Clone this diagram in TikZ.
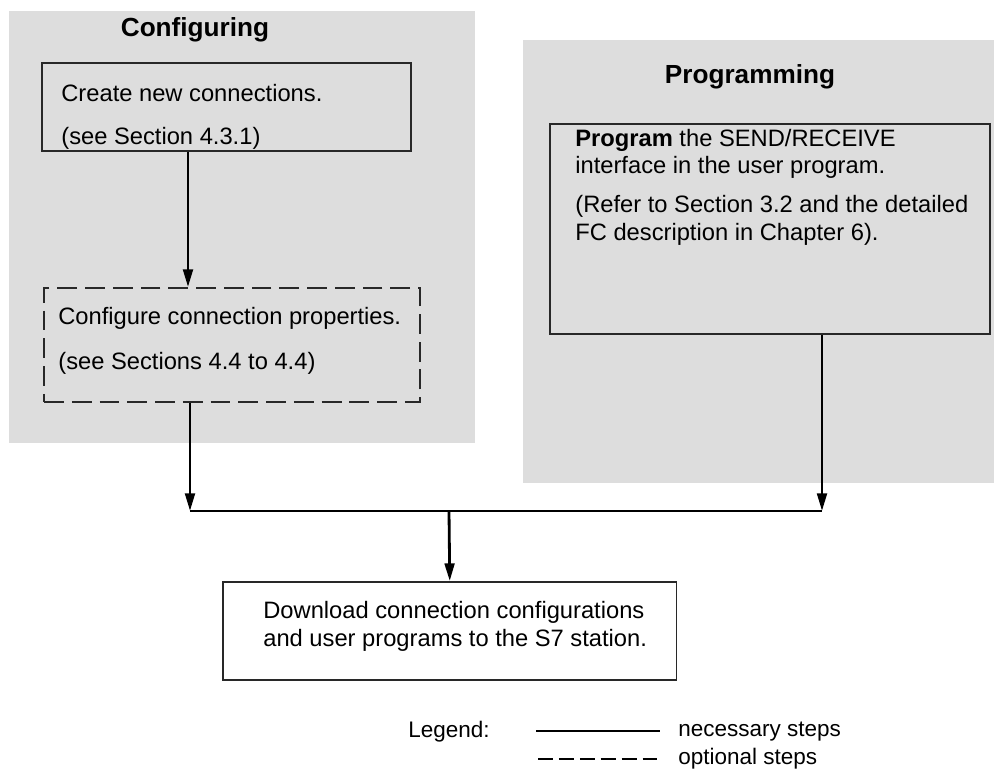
\documentclass[tikz,border=0pt]{standalone}
\usepackage{fontspec}
\setmainfont{Liberation Sans}
\usetikzlibrary{arrows.meta}
\definecolor{panelgray}{RGB}{221,221,221}
\definecolor{boxline}{RGB}{40,40,40}

\begin{document}
\begin{tikzpicture}[x=0.02cm, y=-0.02cm,
    panel/.style={fill=panelgray, draw=none, anchor=north west, inner sep=0pt},
    stepbox/.style={draw=boxline, line width=1.1pt, anchor=north west, inner sep=0pt},
    optbox/.style={stepbox, line width=1.2pt, dash pattern=on 11.3pt off 4.5pt},
    arr/.style={line width=1.6pt, -{Triangle[length=10pt,width=5.5pt]}},
    txt/.style={anchor=base west, inner sep=0pt, font=\fontsize{13.5}{16}\selectfont},
    legtxt/.style={anchor=base west, inner sep=0pt, font=\fontsize{12.8}{15}\selectfont},
    title/.style={anchor=base, inner sep=0pt, font=\fontsize{14.9}{18}\selectfont\bfseries}]
    \useasboundingbox (0,0) rectangle (994,772);
    % grey backgrounds
    \node[panel, minimum width=9.32cm, minimum height=8.64cm] (cfgpanel) at (9,11) {};
    \node[panel, minimum width=9.42cm, minimum height=8.86cm] (prgpanel) at (523,40) {};
    \node[title] (cfgtitle) at (195,36) {Configuring};
    \node[title] (prgtitle) at (750,83) {Programming};

    \node[stepbox, minimum width=7.38cm, minimum height=1.76cm] (create) at (41,62) {};
    \node[txt] (create1) at (61,101) {Create new connections.};
    \node[txt] (create2) at (61,144) {(see Section 4.3.1)};

    \node[optbox, minimum width=7.52cm, minimum height=2.28cm] (config) at (43,287) {};
    \node[txt] (config1) at (58,324) {Configure connection properties.};
    \node[txt] (config2) at (58,369) {(see Sections 4.4 to 4.4)};

    \node[stepbox, minimum width=8.8cm, minimum height=4.2cm] (prog) at (549,123) {};
    \node[txt] (prog1) at (575,146) {\textbf{Program} the SEND/RECEIVE};
    \node[txt] (prog2) at (575,173) {interface in the user program.};
    \node[txt] (prog3) at (575,212) {(Refer to Section 3.2 and the detailed};
    \node[txt] (prog4) at (575,240) {FC description in Chapter 6).};

    \node[stepbox, line width=0.9pt, minimum width=9.08cm, minimum height=1.96cm] (download) at (222,581) {};
    \node[txt] (download1) at (263,618) {Download connection configurations};
    \node[txt] (download2) at (263,646) {and user programs to the S7 station.};

    \coordinate (drop) at (188,200);
    \coordinate (busL) at (190,511);
    \coordinate (busR) at (822,511);
    \coordinate (busM) at (449,511);
    \draw[arr] (drop |- create.south) -- (drop |- config.north);
    \draw[arr] (busL |- config.south) -- (busL);
    \draw[arr] (busR |- prog.south) -- (busR);
    \draw[line width=1.6pt] (busL) -- (busR);
    \draw[arr] (busM) -- (download.north);

    % legend
    \coordinate (solidA) at (536,731);
    \coordinate (solidB) at (660,731);
    \coordinate (dashA) at (538,759);
    \coordinate (dashB) at (660,759);
    \node[legtxt] (legend) at (408,737) {Legend:};
    \draw[line width=1.4pt] (solidA) -- (solidB);
    \draw[line width=1.4pt, dash pattern=on 8.5pt off 3.4pt] (dashA) -- (dashB);
    \node[legtxt] (necessary) at (678,736) {necessary steps};
    \node[legtxt] (optional) at (678,764) {optional steps};
\end{tikzpicture}
\end{document}
